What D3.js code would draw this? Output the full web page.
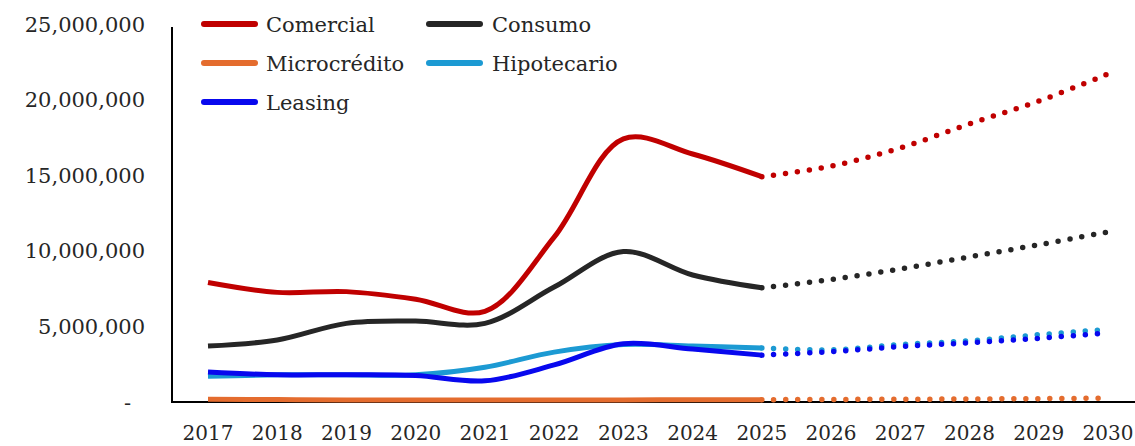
<!DOCTYPE html>
<html>
<head>
<meta charset="utf-8">
<script src="https://cdn.jsdelivr.net/npm/d3@7"></script>
<style>
  html, body { margin: 0; padding: 0; background: #fff; }
  svg text { font-family: "DejaVu Serif", serif; fill: #262626; }
</style>
</head>
<body>
<svg id="chart" width="1135" height="446"></svg>
<script>
// ---- data ----
const years = ["2017","2018","2019","2020","2021","2022","2023","2024","2025","2026","2027","2028","2029","2030"];
const histYears = years.slice(0, 9);
const foreYears = years.slice(8);

const comercialHist   = [7900000, 7250000, 7300000, 6800000, 6000000, 10900000, 17400000, 16400000, 14900000];
const comercialFore   = [14900000, 15600000, 16800000, 18400000, 19900000, 21700000];
const consumoHist     = [3700000, 4100000, 5200000, 5350000, 5200000, 7600000, 9950000, 8400000, 7550000];
const consumoFore     = [7550000, 8100000, 8800000, 9600000, 10400000, 11250000];
const microHist       = [180000, 160000, 140000, 130000, 130000, 130000, 140000, 150000, 150000];
const microFore       = [150000, 170000, 180000, 200000, 220000, 250000];
const hipoHist        = [1700000, 1800000, 1800000, 1800000, 2300000, 3300000, 3800000, 3700000, 3570000];
const hipoFore        = [3570000, 3450000, 3800000, 4050000, 4450000, 4800000];
const leasingHist     = [1980000, 1800000, 1800000, 1750000, 1400000, 2450000, 3850000, 3500000, 3100000];
const leasingFore     = [3100000, 3330000, 3660000, 3920000, 4210000, 4580000];

const seriesNames  = ["Comercial", "Consumo", "Microcrédito", "Hipotecario", "Leasing"];
const seriesColors = ["#C00000", "#262626", "#E46C2E", "#1C9AD3", "#0808EE"];
const yTicks = [0, 5000000, 10000000, 15000000, 20000000, 25000000];

const series = [
  { name: seriesNames[0], color: seriesColors[0], hist: comercialHist, fore: comercialFore },
  { name: seriesNames[1], color: seriesColors[1], hist: consumoHist,   fore: consumoFore },
  { name: seriesNames[2], color: seriesColors[2], hist: microHist,     fore: microFore },
  { name: seriesNames[3], color: seriesColors[3], hist: hipoHist,      fore: hipoFore },
  { name: seriesNames[4], color: seriesColors[4], hist: leasingHist,   fore: leasingFore }
];

// ---- layout ----
const svg = d3.select("#chart");
const axisX = 172, axisBottom = 402;
const x = d3.scalePoint().domain(years).range([208, 1108]);
const y = d3.scaleLinear().domain([0, 25000000]).range([axisBottom, 24]);

// axes lines
svg.append("line").attr("x1", axisX).attr("x2", axisX)
  .attr("y1", 27).attr("y2", axisBottom + 1)
  .attr("stroke", "#000").attr("stroke-width", 2);
svg.append("line").attr("x1", axisX - 1).attr("x2", 1135)
  .attr("y1", axisBottom).attr("y2", axisBottom)
  .attr("stroke", "#000").attr("stroke-width", 2);

// y labels
const fmt = d3.format(",");
svg.selectAll("text.ylab").data(yTicks).enter().append("text")
  .attr("class", "ylab")
  .attr("x", d => d === 0 ? 131 : 145)
  .attr("y", d => y(d) + 7.5)
  .attr("text-anchor", "end")
  .attr("font-size", 21)
  .text(d => d === 0 ? "-" : fmt(d));

// x labels
svg.selectAll("text.xlab").data(years).enter().append("text")
  .attr("class", "xlab")
  .attr("x", d => x(d))
  .attr("y", 440)
  .attr("text-anchor", "middle")
  .attr("font-size", 20)
  .text(d => d);

// lines
const line = d3.line()
  .x(d => x(d.year))
  .y(d => y(d.value))
  .curve(d3.curveCatmullRom.alpha(0.5));

series.forEach(s => {
  const h = histYears.map((yr, i) => ({ year: yr, value: s.hist[i] }));
  const f = foreYears.map((yr, i) => ({ year: yr, value: s.fore[i] }));
  svg.append("path").datum(f)
    .attr("d", line)
    .attr("fill", "none")
    .attr("stroke", s.color)
    .attr("stroke-width", 5.5)
    .attr("stroke-linecap", "round")
    .attr("stroke-dasharray", "0 12")
    .attr("stroke-dashoffset", -12);
  svg.append("path").datum(h)
    .attr("d", line)
    .attr("fill", "none")
    .attr("stroke", s.color)
    .attr("stroke-width", 5)
    .attr("stroke-linecap", "butt");
});

// legend
const legendPos = [
  { sx: 204, tx: 266, cy: 24 },
  { sx: 429, tx: 492, cy: 24 },
  { sx: 204, tx: 266, cy: 63 },
  { sx: 429, tx: 492, cy: 63 },
  { sx: 204, tx: 266, cy: 102 }
];
series.forEach((s, i) => {
  const p = legendPos[i];
  svg.append("line")
    .attr("x1", p.sx).attr("x2", p.sx + 51)
    .attr("y1", p.cy).attr("y2", p.cy)
    .attr("stroke", s.color).attr("stroke-width", 6)
    .attr("stroke-linecap", "round");
  svg.append("text")
    .attr("x", p.tx).attr("y", p.cy + 7.5)
    .attr("font-size", 21)
    .text(s.name);
});
</script>
</body>
</html>
